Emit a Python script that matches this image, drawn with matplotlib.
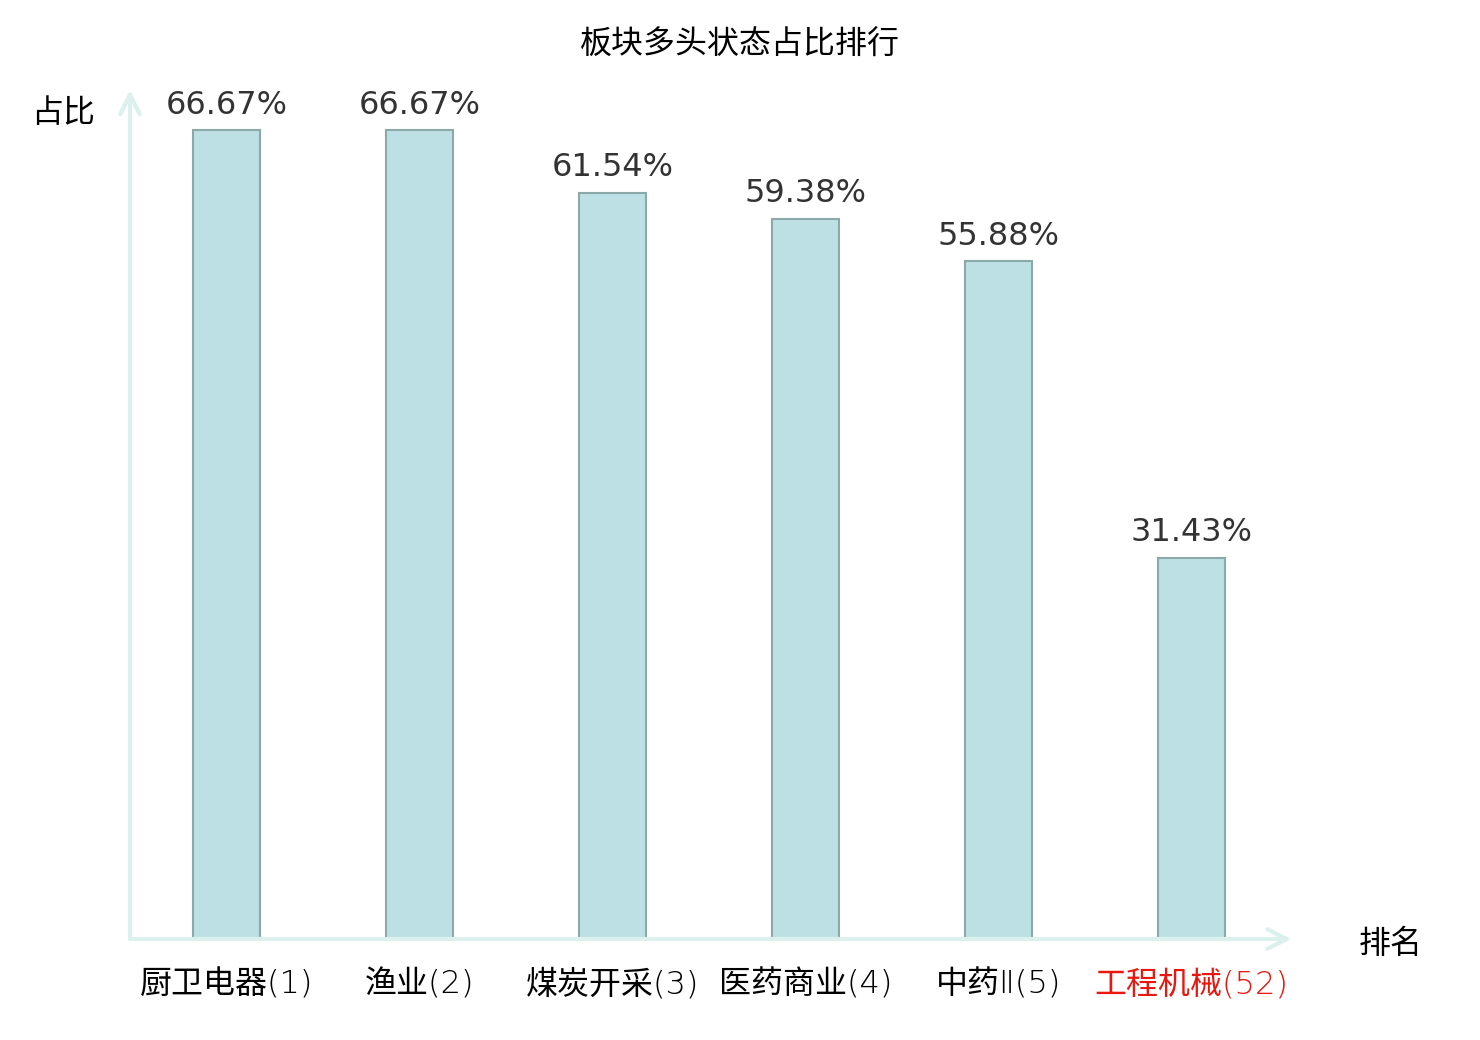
import matplotlib
matplotlib.use("Agg")
import matplotlib.pyplot as plt

plt.rcParams["font.family"] = ["Noto Sans CJK SC", "DejaVu Sans"]

# ---------- data ----------
categories = ["厨卫电器(1)", "渔业(2)", "煤炭开采(3)", "医药商业(4)", "中药Ⅱ(5)", "工程机械(52)"]
values = [66.67, 66.67, 61.54, 59.38, 55.88, 31.43]
label_colors = ["black", "black", "black", "black", "black", "#e8170f"]

BAR_FILL = "#bce0e3"
BAR_EDGE = "#8ba9a9"
AXIS_COL = "#dcf0ee"
FS = 23

fig = plt.figure(figsize=(14.8, 10.4), dpi=100)
ax = fig.add_axes([130 / 1480, 101 / 1040, 1158 / 1480, 849 / 1040])

x = list(range(len(categories)))
ax.bar(x, values, width=0.35, color=BAR_FILL, edgecolor=BAR_EDGE, linewidth=1.5)

for xi, v in zip(x, values):
    ax.annotate(f"{v:.2f}%", (xi, v), xytext=(0, 7), textcoords="offset points",
                ha="center", va="bottom", fontsize=FS, color="#333333",
                family="DejaVu Sans")

ax.set_xlim(-0.5, 5.5)
ax.set_ylim(0, 70)
for s in ax.spines.values():
    s.set_visible(False)
ax.set_yticks([])
ax.set_xticks(x)
ax.set_xticklabels(categories, fontsize=FS, family=["DejaVu Sans", "Noto Sans CJK SC"],
                   fontweight=200)
for lbl, c in zip(ax.get_xticklabels(), label_colors):
    lbl.set_color(c)
ax.tick_params(axis="x", length=0, pad=21)

# axis arrows
arrow = dict(arrowstyle="->", color=AXIS_COL, lw=3, mutation_scale=35, shrinkA=0, shrinkB=0)
ax.annotate("", xy=(0, 1), xytext=(0, 0), xycoords="axes fraction", arrowprops=arrow)
ax.annotate("", xy=(1.003, 0), xytext=(0, 0), xycoords="axes fraction", arrowprops=arrow)

fig.text(63 / 1480, 1 - 113 / 1040, "占比", ha="center", va="center", fontsize=FS)
fig.text(1391 / 1480, 1 - 944 / 1040, "排名", ha="center", va="center", fontsize=FS)
fig.text(0.5, 1 - 45 / 1040, "板块多头状态占比排行", ha="center", va="center", fontsize=FS)

fig.savefig("out.png", dpi=100)
